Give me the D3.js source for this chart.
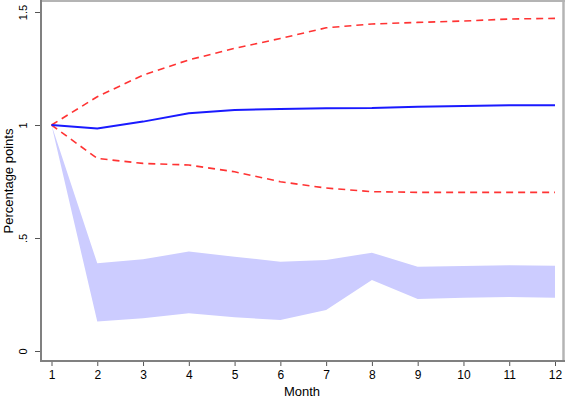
<!DOCTYPE html>
<html>
<head>
<meta charset="utf-8">
<script src="https://cdn.jsdelivr.net/npm/d3@7"></script>
<style>
  body { margin: 0; background: #fff; }
  svg { display: block; font-family: "Liberation Sans", Arial, sans-serif; }
</style>
</head>
<body>
<svg width="565" height="399"></svg>
<script>
var months = [1, 2, 3, 4, 5, 6, 7, 8, 9, 10, 11, 12];
var estimate = [1.0, 0.985, 1.015, 1.052, 1.066, 1.071, 1.074, 1.075, 1.081, 1.084, 1.087, 1.087];
var upper_ci = [1.0, 1.125, 1.221, 1.288, 1.339, 1.383, 1.43, 1.447, 1.454, 1.46, 1.469, 1.472];
var lower_ci = [1.0, 0.852, 0.830, 0.823, 0.793, 0.749, 0.721, 0.705, 0.702, 0.702, 0.702, 0.702];
var band_hi = [1.0, 0.388, 0.406, 0.440, 0.417, 0.395, 0.403, 0.435, 0.373, 0.376, 0.379, 0.377];
var band_lo = [1.0, 0.130, 0.145, 0.167, 0.149, 0.137, 0.181, 0.314, 0.230, 0.236, 0.239, 0.236];
var y_ticks = [0, 0.5, 1, 1.5];
var y_tick_labels = ["0", ".5", "1", "1.5"];

var svg = d3.select("svg");

// plot frame
var frame_left = 41, frame_right = 563, frame_top = 1, frame_bottom = 361;

var x = d3.scaleLinear().domain([1, 12]).range([51.5, 555]);
var y = d3.scaleLinear().domain([0, 1.5]).range([351, 12]);

var rows = months.map((m, i) => ({
    m: m, est: estimate[i], hi: upper_ci[i], lo: lower_ci[i], bhi: band_hi[i], blo: band_lo[i]
}));

// shaded band
var band = d3.area()
    .x(d => x(d.m))
    .y0(d => y(d.blo))
    .y1(d => y(d.bhi));

svg.append("path")
    .attr("d", band(rows))
    .attr("fill", "#ccccff")
    .attr("stroke", "none");

// dashed red bounds
var lineHi = d3.line().x(d => x(d.m)).y(d => y(d.hi));
var lineLo = d3.line().x(d => x(d.m)).y(d => y(d.lo));

[lineHi, lineLo].forEach(l => {
    svg.append("path")
        .attr("d", l(rows))
        .attr("fill", "none")
        .attr("stroke", "#ff3333")
        .attr("stroke-width", 1.6)
        .attr("stroke-dasharray", "7,5");
});

// blue estimate
var lineEst = d3.line().x(d => x(d.m)).y(d => y(d.est));
svg.append("path")
    .attr("d", lineEst(rows))
    .attr("fill", "none")
    .attr("stroke", "#1a1aff")
    .attr("stroke-width", 2);

// frame: top and right lighter
svg.append("line").attr("x1", frame_left).attr("x2", frame_right + 2).attr("y1", frame_top).attr("y2", frame_top)
    .attr("stroke", "#b4b4b4").attr("stroke-width", 2);
svg.append("line").attr("x1", frame_right + 0.5).attr("x2", frame_right + 0.5).attr("y1", 0).attr("y2", frame_bottom)
    .attr("stroke", "#b4b4b4").attr("stroke-width", 2.5);

// y axis
var yAxis = d3.axisLeft(y)
    .tickValues(y_ticks)
    .tickFormat((d, i) => y_tick_labels[i])
    .tickSize(6)
    .tickSizeOuter(0);

var gy = svg.append("g")
    .attr("transform", "translate(" + frame_left + ",0)")
    .call(yAxis);
gy.select(".domain").remove();
gy.selectAll(".tick line").attr("stroke", "#555").attr("stroke-width", 1);
gy.selectAll(".tick text")
    .attr("x", null).attr("dy", null)
    .attr("transform", "translate(-14,0) rotate(-90)")
    .attr("text-anchor", "middle")
    .attr("font-size", 11)
    .attr("fill", "#000");

svg.append("line").attr("x1", frame_left).attr("x2", frame_left).attr("y1", 0).attr("y2", frame_bottom + 1)
    .attr("stroke", "#808080").attr("stroke-width", 2);

// x axis
var xAxis = d3.axisBottom(x)
    .tickValues(months)
    .tickFormat(d3.format("d"))
    .tickSize(5)
    .tickSizeOuter(0);

var gx = svg.append("g")
    .attr("transform", "translate(0," + frame_bottom + ")")
    .call(xAxis);
gx.select(".domain").remove();
gx.selectAll(".tick line").attr("stroke", "#555").attr("stroke-width", 1);
gx.selectAll(".tick text")
    .attr("y", 9)
    .attr("font-size", 12)
    .attr("fill", "#000");

svg.append("line").attr("x1", frame_left - 1).attr("x2", frame_right + 2).attr("y1", frame_bottom).attr("y2", frame_bottom)
    .attr("stroke", "#808080").attr("stroke-width", 2);

// axis titles
svg.append("text")
    .attr("x", (frame_left + frame_right) / 2)
    .attr("y", 396)
    .attr("text-anchor", "middle")
    .attr("font-size", 13)
    .text("Month");

svg.append("text")
    .attr("transform", "translate(13," + (frame_top + frame_bottom) / 2 + ") rotate(-90)")
    .attr("text-anchor", "middle")
    .attr("font-size", 13)
    .text("Percentage points");
</script>
</body>
</html>
